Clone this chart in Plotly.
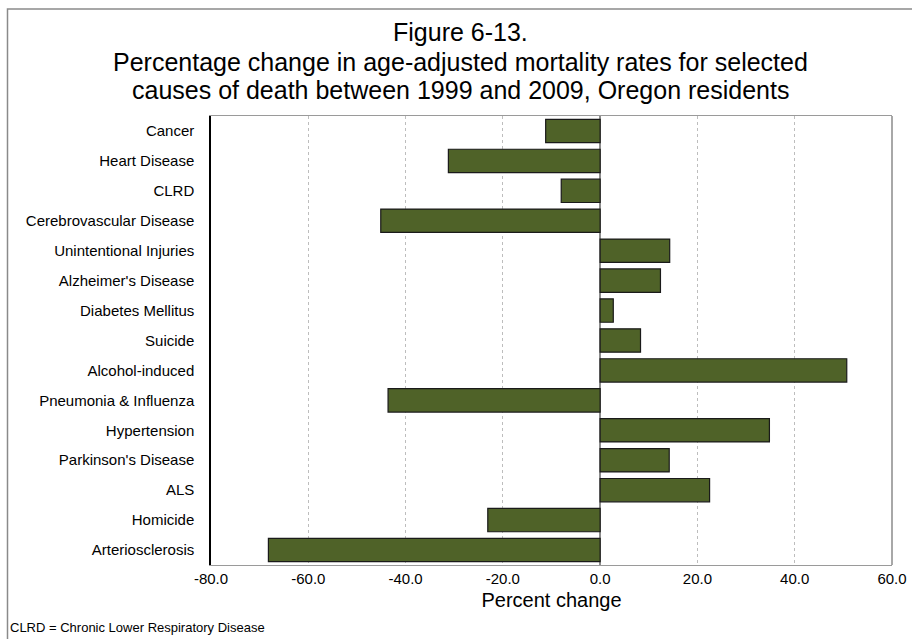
import plotly.graph_objects as go

# ─── Data ────────────────────────────────────────────────────────────────────
causes = [
    "Cancer", "Heart Disease", "CLRD", "Cerebrovascular Disease",
    "Unintentional Injuries", "Alzheimer's Disease", "Diabetes Mellitus",
    "Suicide", "Alcohol-induced", "Pneumonia & Influenza", "Hypertension",
    "Parkinson's Disease", "ALS", "Homicide", "Arteriosclerosis",
]
pct_change = [
    -11.2, -31.2, -8.0, -45.1,
    14.3, 12.4, 2.7,
    8.3, 50.7, -43.6, 34.8,
    14.2, 22.5, -23.1, -68.2,
]
x_ticks = [-80, -60, -40, -20, 0, 20, 40, 60]
x_tick_text = [f"{v:.1f}" for v in x_ticks]

title_lines = [
    "Figure 6-13.",
    "Percentage change in age-adjusted mortality rates for selected",
    "causes of death between 1999 and 2009, Oregon residents",
]
footnote = "CLRD = Chronic Lower Respiratory Disease"

_FONT = "Liberation Sans, Arial, sans-serif"
_BAR = "#4f6228"
_GRID = "#bdbdbd"
_FRAME = "#8a8a8a"

# full window; the page body margin is removed in post_script below
_W, _H = 912, 639
_L, _T = 211, 116
_R = _W - 892
_B = _H - 565
_PW = _W - _L - _R
_PH = _H - _T - _B


def _px(sx):
    """screen x (reference pixels) -> paper x"""
    return (sx - _L) / _PW


def _py(sy):
    """screen y (reference pixels) -> paper y"""
    return 1 + (_T - sy) / _PH


fig = go.Figure()

fig.add_trace(go.Bar(
    y=causes,
    x=pct_change,
    orientation="h",
    marker=dict(color=_BAR, line=dict(color="#1a1a1a", width=1.2)),
    width=0.78,
    showlegend=False,
    hoverinfo="x+y",
))

# outer frame of the chart object (runs off the right / bottom edges)
fig.add_shape(
    type="rect", xref="paper", yref="paper",
    x0=_px(7.5), x1=1.2, y0=-0.5, y1=_py(9),
    line=dict(color=_FRAME, width=1.5),
    fillcolor="rgba(0,0,0,0)", layer="below",
)
# right edge of the plot area
fig.add_shape(
    type="line", xref="paper", yref="paper",
    x0=1, x1=1, y0=0, y1=1,
    line=dict(color="#6e6e6e", width=1.2),
)

# title, one annotation per line to keep the tight line spacing
for line, cy in zip(title_lines, [32, 62, 90]):
    fig.add_annotation(
        text=line,
        xref="paper", yref="paper",
        x=_px(460), y=_py(cy),
        xanchor="center", yanchor="middle",
        showarrow=False,
        font=dict(family=_FONT, size=25, color="#000000"),
    )

fig.add_annotation(
    text=footnote,
    xref="paper", yref="paper",
    x=_px(8), y=_py(627),
    xanchor="left", yanchor="middle",
    showarrow=False,
    font=dict(family=_FONT, size=13, color="#000000"),
)

fig.update_layout(
    width=_W,
    height=_H,
    paper_bgcolor="#ffffff",
    plot_bgcolor="#ffffff",
    margin=dict(l=_L, r=_R, t=_T, b=_B, autoexpand=False),
    font=dict(family=_FONT, size=15, color="#000000"),
    xaxis=dict(
        range=[-80, 60],
        tickvals=x_ticks,
        ticktext=x_tick_text,
        automargin=False,
        showgrid=True,
        gridcolor=_GRID,
        griddash="dot",
        gridwidth=1,
        zeroline=True,
        zerolinecolor="#8c8c8c",
        zerolinewidth=1.5,
        showline=True,
        linecolor="#9a9a9a",
        mirror=True,
        ticks="",
        ticklabeloverflow="allow",
        tickfont=dict(size=15),
        title=dict(text="Percent change", font=dict(size=20), standoff=6),
    ),
    yaxis=dict(
        autorange="reversed",
        automargin=False,
        showgrid=False,
        showline=True,
        linecolor="#000000",
        linewidth=1.5,
        ticks="",
        ticklabelstandoff=12,
        tickfont=dict(size=15),
    ),
)

# drop the default 8px body margin so the 912x639 figure fills the window
fig.write_html(
    "out.html",
    config=dict(displayModeBar=False),
    post_script=(
        "document.documentElement.style.overflow='hidden';"
        "document.body.style.margin='0';"
        "document.body.style.overflow='hidden';"
    ),
)
